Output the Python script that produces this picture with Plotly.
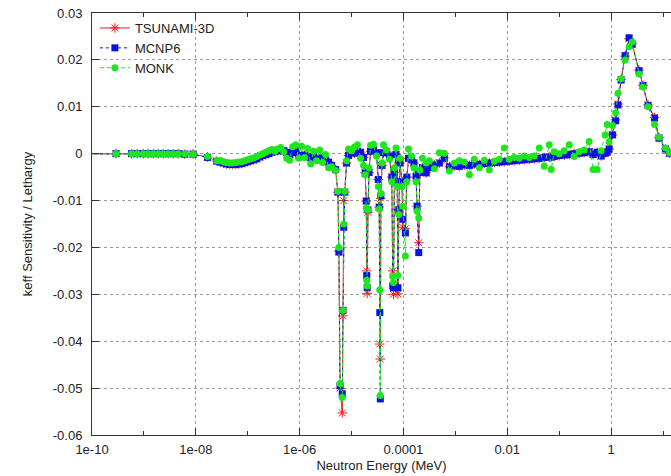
import plotly.graph_objects as go

# Neutron energy grid (MeV), shared by the three codes
energy_mev = [
    1e-11, 2.90e-10, 5.80e-10, 7.43e-10, 9.71e-10, 1.21e-9, 1.51e-9, 1.88e-9, 2.35e-9, 2.93e-9,
    3.66e-9, 4.57e-9, 6.14e-9, 8.87e-9, 1.68e-8, 2.54e-8, 3.03e-8, 3.45e-8, 3.94e-8, 4.51e-8,
    5.15e-8, 5.88e-8, 6.71e-8, 7.67e-8, 8.75e-8, 1.00e-7, 1.14e-7, 1.30e-7, 1.49e-7, 1.70e-7,
    1.94e-7, 2.22e-7, 2.54e-7, 2.90e-7, 3.31e-7, 3.78e-7, 4.32e-7, 4.92e-7, 5.62e-7, 6.43e-7,
    7.33e-7, 8.38e-7, 9.57e-7, 1.09e-6, 1.25e-6, 1.43e-6, 1.63e-6, 1.86e-6, 2.12e-6, 2.43e-6,
    2.77e-6, 3.16e-6, 3.61e-6, 4.12e-6, 4.92e-6, 5.46e-6, 5.70e-6, 6.01e-6, 6.62e-6, 6.84e-6,
    7.08e-6, 7.40e-6, 8.02e-6, 8.75e-6, 1.00e-5, 1.14e-5, 1.30e-5, 1.49e-5, 1.70e-5, 1.83e-5,
    1.92e-5, 1.96e-5, 2.00e-5, 2.07e-5, 2.17e-5, 2.32e-5, 2.65e-5, 3.03e-5, 3.27e-5, 3.41e-5,
    3.50e-5, 3.58e-5, 3.67e-5, 3.86e-5, 4.12e-5, 4.71e-5, 5.38e-5, 5.96e-5, 6.22e-5, 6.43e-5,
    6.71e-5, 7.18e-5, 7.57e-5, 7.83e-5, 8.13e-5, 8.57e-5, 9.35e-5, 9.70e-5, 1.09e-4, 1.16e-4,
    1.25e-4, 1.43e-4, 1.59e-4, 1.75e-4, 1.83e-4, 1.97e-4, 2.07e-4, 2.32e-4, 2.74e-4, 3.16e-4,
    3.94e-4, 4.92e-4, 6.14e-4, 7.67e-4, 9.57e-4, 1.19e-3, 1.49e-3, 1.86e-3, 2.32e-3, 2.90e-3,
    3.61e-3, 4.51e-3, 5.62e-3, 7.02e-3, 8.75e-3, 1.09e-2, 1.36e-2, 1.70e-2, 2.12e-2, 2.65e-2,
    3.30e-2, 4.12e-2, 5.15e-2, 6.43e-2, 7.02e-2, 8.02e-2, 0.100, 0.125, 0.156, 0.194,
    0.243, 0.303, 0.378, 0.451, 0.538, 0.643, 0.767, 0.838, 0.916, 1.07,
    1.22, 1.36, 1.56, 1.86, 2.22, 2.54, 3.45, 4.12, 5.15, 6.87,
    8.38, 11.2, 13.3, 17.0,
]

tsunami_3d = [
    0, 0, 0, 0, 0, 0, 0, 0, 0, 0,
    0, 0, -0.0001, -0.0001, -0.0007, -0.0016, -0.0018, -0.0020, -0.0022, -0.0023,
    -0.0023, -0.0023, -0.0022, -0.0021, -0.0019, -0.0017, -0.0015, -0.0013, -0.0011, -0.0007,
    -0.0004, -0.0002, 0.0000, 0.0003, 0.0005, 0.0006, 0.0007, 0.0006, 0.0003, -0.0002,
    0.0002, 0.0006, -0.0004, -0.0005, -0.0003, -0.0006, -0.0008, -0.0006, -0.0010, -0.0012,
    -0.0009, -0.0014, -0.0018, -0.0025, -0.0034, -0.0082, -0.0208, -0.0500, -0.0553, -0.0346,
    -0.0100, -0.0082, -0.0020, -0.0004, 0.0002, 0.0001, 0.0004, 0.0003, -0.0008, -0.0041,
    -0.0101, -0.0250, -0.0298, -0.0125, -0.0040, 0.0005, 0.0008, 0.0002, -0.0055, -0.0114,
    -0.0406, -0.0438, -0.0095, -0.0025, 0.0002, 0.0004, -0.0005, -0.0050, -0.0250, -0.0300,
    -0.0040, -0.0002, -0.0060, -0.0299, -0.0120, -0.0020, -0.0060, -0.0157, -0.0160, -0.0050,
    -0.0010, -0.0012, -0.0020, -0.0050, -0.0112, -0.0190, -0.0040, -0.0030, -0.0041, -0.0030,
    -0.0024, -0.0020, -0.0009, -0.0028, -0.0026, -0.0027, -0.0024, -0.0025, -0.0022, -0.0023,
    -0.0021, -0.0020, -0.0019, -0.0018, -0.0017, -0.0016, -0.0015, -0.0014, -0.0013, -0.0012,
    -0.0011, -0.0010, -0.0008, -0.0007, -0.0007, -0.0006, -0.0004, -0.0003, -0.0002, 0.0000,
    0.0001, 0.0002, 0.0004, -0.0002, 0.0003, -0.0005, 0.0001, 0.0003, 0.0010, 0.0040,
    0.0072, 0.0106, 0.0158, 0.0208, 0.0245, 0.0234, 0.0178, 0.0146, 0.0104, 0.0077,
    0.0034, 0.0010, 0.0001, 0.0000,
]

mcnp6 = [
    0, 0, 0, 0, 0, 0, 0, 0, 0, 0,
    0, 0, -0.0001, -0.0001, -0.0008, -0.0016, -0.0018, -0.0020, -0.0022, -0.0023,
    -0.0023, -0.0023, -0.0022, -0.0021, -0.0019, -0.0017, -0.0015, -0.0013, -0.0011, -0.0007,
    -0.0004, -0.0002, 0.0000, 0.0003, 0.0005, 0.0006, 0.0007, 0.0006, 0.0003, -0.0002,
    0.0002, 0.0006, -0.0004, -0.0005, -0.0003, -0.0006, -0.0008, -0.0006, -0.0010, -0.0012,
    -0.0009, -0.0014, -0.0018, -0.0025, -0.0034, -0.0082, -0.0210, -0.0495, -0.0512, -0.0334,
    -0.0157, -0.0082, -0.0020, -0.0004, 0.0002, 0.0001, 0.0004, 0.0003, -0.0008, -0.0041,
    -0.0101, -0.0260, -0.0285, -0.0120, -0.0040, 0.0005, 0.0008, 0.0002, -0.0055, -0.0114,
    -0.0339, -0.0523, -0.0090, -0.0025, 0.0002, 0.0004, -0.0005, -0.0050, -0.0282, -0.0286,
    -0.0040, -0.0002, -0.0060, -0.0286, -0.0120, -0.0020, -0.0060, -0.0140, -0.0169, -0.0050,
    -0.0010, -0.0012, -0.0020, -0.0048, -0.0112, -0.0211, -0.0040, -0.0030, -0.0041, -0.0030,
    -0.0024, -0.0020, -0.0010, -0.0028, -0.0026, -0.0027, -0.0024, -0.0025, -0.0022, -0.0023,
    -0.0021, -0.0020, -0.0019, -0.0018, -0.0017, -0.0016, -0.0015, -0.0014, -0.0013, -0.0012,
    -0.0011, -0.0010, -0.0008, -0.0007, -0.0007, -0.0006, -0.0004, -0.0003, -0.0002, 0.0000,
    0.0001, 0.0002, 0.0004, -0.0002, 0.0003, -0.0005, 0.0001, 0.0003, 0.0010, 0.0040,
    0.0070, 0.0104, 0.0157, 0.0209, 0.0247, 0.0233, 0.0177, 0.0145, 0.0103, 0.0076,
    0.0033, 0.0010, 0.0001, 0.0000,
]

monk = [
    0, 0, 0, 0, 0, 0, 0, 0, 0, 0,
    0, 0, 0, -0.0001, -0.0006, -0.0015, -0.0015, -0.0018, -0.0019, -0.0020,
    -0.0020, -0.0019, -0.0018, -0.0017, -0.0015, -0.0013, -0.0011, -0.0009, -0.0006, -0.0003,
    0.0000, 0.0003, 0.0006, 0.0009, 0.0005, 0.0010, 0.0013, 0.0004, -0.0010, -0.0014,
    0.0015, 0.0019, -0.0010, 0.0016, -0.0008, 0.0011, -0.0022, 0.0005, -0.0015, 0.0008,
    -0.0019, -0.0002, -0.0030, -0.0028, -0.0036, -0.0080, -0.0200, -0.0490, -0.0520, -0.0334,
    -0.0150, -0.0080, -0.0015, 0.0010, 0.0006, 0.0014, 0.0019, -0.0010, -0.0025, -0.0045,
    -0.0116, -0.0270, -0.0282, -0.0120, -0.0030, 0.0018, 0.0020, -0.0005, -0.0070, -0.0118,
    -0.0291, -0.0516, -0.0085, -0.0020, 0.0019, 0.0008, -0.0012, -0.0060, -0.0262, -0.0275,
    -0.0030, 0.0012, -0.0070, -0.0260, -0.0130, -0.0010, -0.0070, -0.0112, -0.0218, -0.0060,
    0.0010, -0.0005, -0.0030, -0.0060, -0.0123, -0.0137, -0.0035, -0.0010, -0.0020, -0.0015,
    -0.0032, 0.0002, 0.0001, -0.0037, -0.0020, -0.0015, -0.0018, -0.0045, -0.0012, -0.0030,
    -0.0014, -0.0035, -0.0016, -0.0012, 0.0012, -0.0012, -0.0008, -0.0010, -0.0005, -0.0008,
    -0.0005, 0.0012, -0.0027, 0.0019, -0.0034, 0.0004, 0.0000, 0.0006, 0.0019, -0.0006,
    0.0004, 0.0008, 0.0026, -0.0034, -0.0034, 0.0006, 0.0040, 0.0062, 0.0025, 0.0060,
    0.0087, 0.0129, 0.0160, 0.0200, 0.0228, 0.0238, 0.0170, 0.0142, 0.0100, 0.0062,
    0.0035, 0.0012, 0.0002, 0.0000,
]

x_tick_vals = [1e-10, 1e-8, 1e-6, 1e-4, 1e-2, 1]
x_tick_text = ["1e-10", "1e-08", "1e-06", "0.0001", "0.01", "1"]
x_minor_vals = [1e-9, 1e-7, 1e-5, 1e-3, 1e-1, 10]
y_tick_vals = [-0.06, -0.05, -0.04, -0.03, -0.02, -0.01, 0, 0.01, 0.02, 0.03]
y_tick_text = ["-0.06", "-0.05", "-0.04", "-0.03", "-0.02", "-0.01", "0", "0.01", "0.02", "0.03"]

FONT = "Liberation Sans, Arial, Helvetica, sans-serif"
RED = "#f01e1e"
BLUE = "#0a10e8"
GREEN = "#1ee61e"

fig = go.Figure()
fig.add_trace(go.Scatter(
    x=energy_mev, y=tsunami_3d, name="TSUNAMI-3D", mode="lines+markers",
    line=dict(color=RED, width=1),
    marker=dict(symbol="asterisk-open", size=8, color=RED, line=dict(color=RED, width=1)),
))
fig.add_trace(go.Scatter(
    x=energy_mev, y=mcnp6, name="MCNP6", mode="lines+markers",
    line=dict(color=BLUE, width=1, dash="3px,3px"),
    marker=dict(symbol="square", size=7, color=BLUE, line=dict(width=0)),
))
fig.add_trace(go.Scatter(
    x=energy_mev, y=monk, name="MONK", mode="lines+markers",
    line=dict(color=GREEN, width=1, dash="4px,3px"),
    marker=dict(symbol="circle", size=7, color=GREEN, line=dict(width=0)),
))

axis_common = dict(
    showline=True, linecolor="#333333", linewidth=1,
    ticks="inside", ticklen=7, tickcolor="#333333", tickwidth=1,
    showgrid=True, gridcolor="#9a9a9a", gridwidth=1, griddash="dot",
    zeroline=False,
    tickfont=dict(family=FONT, size=13, color="#222222"),
)

fig.update_xaxes(
    type="log", range=[-10, 1.154],
    tickvals=x_tick_vals, ticktext=x_tick_text,
    mirror="ticks",
    minor=dict(tickvals=x_minor_vals, ticks="inside", ticklen=4,
               tickcolor="#333333", showgrid=False),
    ticklabelstandoff=2,
    title=dict(text="Neutron Energy (MeV)", font=dict(family=FONT, size=13, color="#222222"),
               standoff=5),
    **axis_common,
)
fig.update_yaxes(
    range=[-0.06, 0.03],
    tickvals=y_tick_vals, ticktext=y_tick_text,
    mirror=False,
    ticklabelstandoff=6,
    title=dict(text="keff Sensitivity / Lethargy", font=dict(family=FONT, size=13, color="#222222"),
               standoff=17),
    **axis_common,
)

fig.update_layout(
    width=671, height=476,
    margin=dict(l=92, r=0, t=13, b=41, autoexpand=False),
    paper_bgcolor="white", plot_bgcolor="white",
    font=dict(family=FONT, size=13, color="#222222"),
    showlegend=True,
    legend=dict(x=0.005, y=1.0, xanchor="left", yanchor="top",
                bgcolor="rgba(0,0,0,0)", borderwidth=0,
                font=dict(family=FONT, size=13, color="#222222"),
                tracegroupgap=0, itemwidth=30),
)

fig.write_html("out.html")
